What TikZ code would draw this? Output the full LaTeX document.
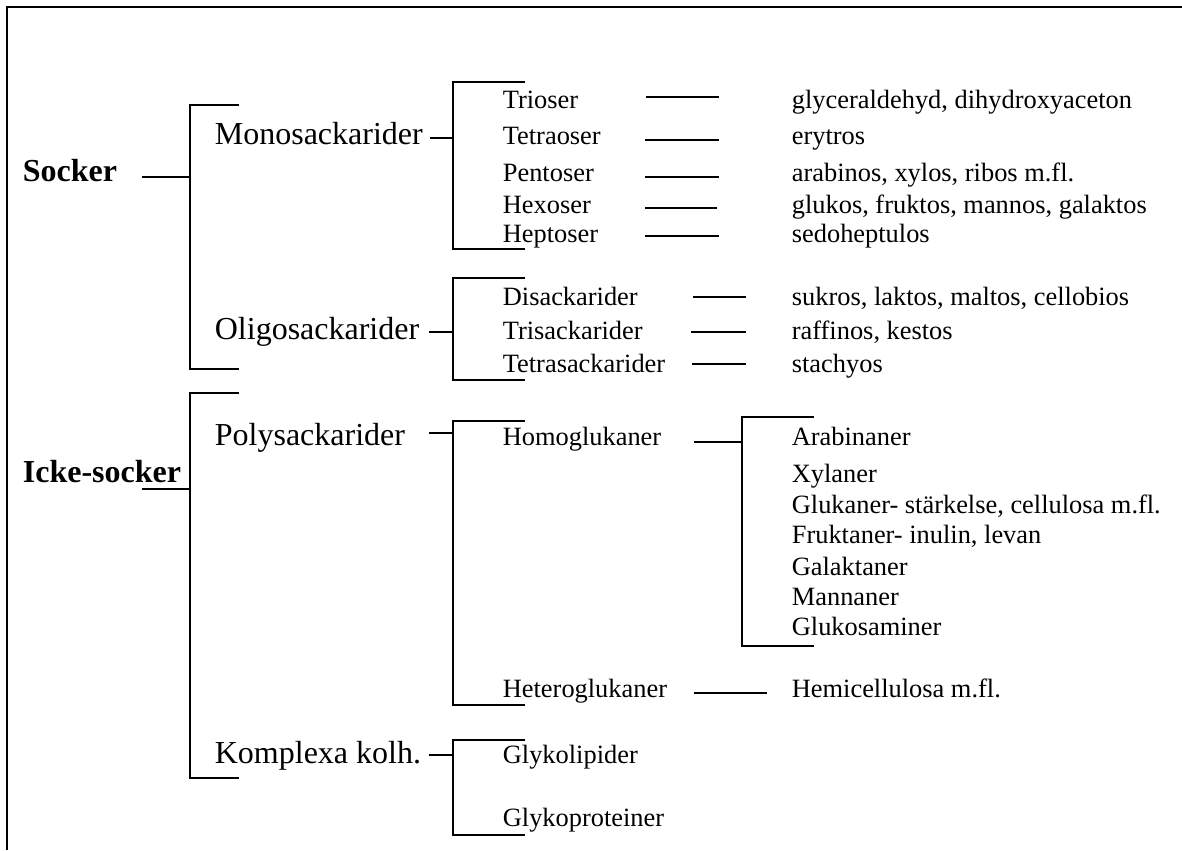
\documentclass[tikz,border=0pt]{standalone}
\usepackage{fontspec}
\setmainfont{Liberation Serif}
\usepackage{tikz}

\begin{document}
\begin{tikzpicture}[x=0.75pt, y=-0.75pt, line width=1.3pt]
    \tikzstyle{top} = [inner sep=0pt, anchor=base west, font=\fontsize{24}{28}\selectfont\bfseries]
    \tikzstyle{group} = [inner sep=0pt, anchor=base west, font=\fontsize{24}{28}\selectfont]
    \tikzstyle{item} = [inner sep=0pt, anchor=base west, font=\fontsize{19.8}{23}\selectfont]
    \tikzstyle{bracket} = [line width=1.3pt]
    \useasboundingbox (0,0) rectangle (1182,850);

    % Frame
    \draw [line width=1.8pt] (7,850) -- (7,7) -- (1182,7);

    % Main classes
    \node [top] (socker) at (22,181) {Socker};
    \node [top] (icke) at (22,482) {Icke-socker};

    % Groups
    \node [group] (mono) at (214,144) {Monosackarider};
    \node [group] (oligo) at (214,339) {Oligosackarider};
    \node [group] (poly) at (214,445) {Polysackarider};
    \node [group] (kompl) at (214,763) {Komplexa kolh.};

    % Subgroups
    \node [item] (trioser) at (502,108) {Trioser};
    \node [item] (tetraoser) at (502,144) {Tetraoser};
    \node [item] (pentoser) at (502,181) {Pentoser};
    \node [item] (hexoser) at (502,213) {Hexoser};
    \node [item] (heptoser) at (502,242) {Heptoser};
    \node [item] (disack) at (502,305) {Disackarider};
    \node [item] (trisack) at (502,339) {Trisackarider};
    \node [item] (tetrasack) at (502,372) {Tetrasackarider};
    \node [item] (homo) at (502,445) {Homoglukaner};
    \node [item] (hetero) at (502,697) {Heteroglukaner};
    \node [item] (lipid) at (502,763) {Glykolipider};
    \node [item] (protein) at (502,826) {Glykoproteiner};

    % Examples
    \node [item] (glycer) at (791,108) {glyceraldehyd, dihydroxyaceton};
    \node [item] (erytros) at (791,144) {erytros};
    \node [item] (arabinos) at (791,181) {arabinos, xylos, ribos m.fl.};
    \node [item] (glukos) at (791,213) {glukos, fruktos, mannos, galaktos};
    \node [item] (sedo) at (791,242) {sedoheptulos};
    \node [item] (sukros) at (791,305) {sukros, laktos, maltos, cellobios};
    \node [item] (raffinos) at (791,339) {raffinos, kestos};
    \node [item] (stachyos) at (791,372) {stachyos};
    \node [item] (arabinaner) at (791,445) {Arabinaner};
    \node [item] (xylaner) at (791,482) {Xylaner};
    \node [item] (glukaner) at (791,513) {Glukaner- stärkelse, cellulosa m.fl.};
    \node [item] (fruktaner) at (791,543) {Fruktaner- inulin, levan};
    \node [item] (galaktaner) at (791,575) {Galaktaner};
    \node [item] (mannaner) at (791,605) {Mannaner};
    \node [item] (glukosamin) at (791,635) {Glukosaminer};
    \node [item] (hemi) at (791,697) {Hemicellulosa m.fl.};

    % Brackets
    \draw [bracket] (239,105) -- (190,105) -- (190,369) -- (239,369);
    \draw [bracket] (239,393) -- (190,393) -- (190,778) -- (239,778);
    \draw [bracket] (525,82) -- (453,82) -- (453,249) -- (525,249);
    \draw [bracket] (525,278) -- (453,278) -- (453,380) -- (525,380);
    \draw [bracket] (525,421) -- (453,421) -- (453,705) -- (525,705);
    \draw [bracket] (525,740) -- (453,740) -- (453,835) -- (525,835);
    \draw [bracket] (814,417) -- (742,417) -- (742,646) -- (814,646);

    % Stubs into brackets
    \coordinate (socker-a) at (142,177);  \coordinate (socker-b) at (190,177);
    \coordinate (icke-a) at (142,489);    \coordinate (icke-b) at (190,489);
    \coordinate (mono-a) at (430,138);    \coordinate (mono-b) at (453,138);
    \coordinate (oligo-a) at (429,332);   \coordinate (oligo-b) at (453,332);
    \coordinate (poly-a) at (429,433);    \coordinate (poly-b) at (453,433);
    \coordinate (kompl-a) at (429,755);   \coordinate (kompl-b) at (453,755);
    \coordinate (homo-a) at (694,442);    \coordinate (homo-b) at (742,442);
    \draw (socker-a) -- (socker-b);
    \draw (icke-a) -- (icke-b);
    \draw (mono-a) -- (mono-b);
    \draw (oligo-a) -- (oligo-b);
    \draw (poly-a) -- (poly-b);
    \draw (kompl-a) -- (kompl-b);
    \draw (homo-a) -- (homo-b);

    % Dashes between subgroup and examples
    \coordinate (trioser-a) at (646,97);     \coordinate (trioser-b) at (719,97);
    \coordinate (tetraoser-a) at (645,140);  \coordinate (tetraoser-b) at (719,140);
    \coordinate (pentoser-a) at (645,177);   \coordinate (pentoser-b) at (719,177);
    \coordinate (hexoser-a) at (645,208);    \coordinate (hexoser-b) at (717,208);
    \coordinate (heptoser-a) at (645,236);   \coordinate (heptoser-b) at (719,236);
    \coordinate (disack-a) at (693,297);     \coordinate (disack-b) at (746,297);
    \coordinate (trisack-a) at (691,332);    \coordinate (trisack-b) at (746,332);
    \coordinate (tetrasack-a) at (692,364);  \coordinate (tetrasack-b) at (746,364);
    \coordinate (hetero-a) at (694,693);     \coordinate (hetero-b) at (767,693);
    \draw (trioser-a) -- (trioser-b);
    \draw (tetraoser-a) -- (tetraoser-b);
    \draw (pentoser-a) -- (pentoser-b);
    \draw (hexoser-a) -- (hexoser-b);
    \draw (heptoser-a) -- (heptoser-b);
    \draw (disack-a) -- (disack-b);
    \draw (trisack-a) -- (trisack-b);
    \draw (tetrasack-a) -- (tetrasack-b);
    \draw (hetero-a) -- (hetero-b);
\end{tikzpicture}
\end{document}
